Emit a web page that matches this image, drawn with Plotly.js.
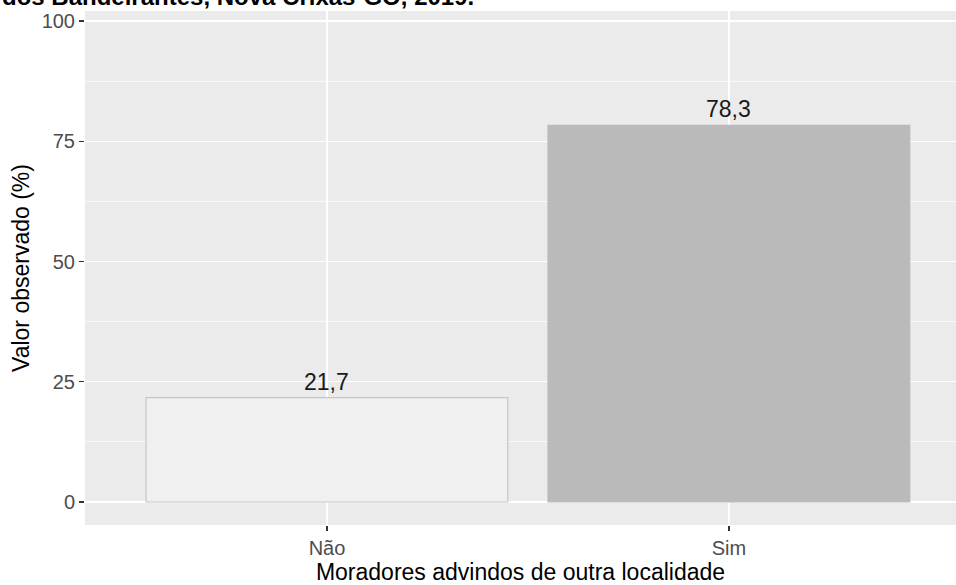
<!DOCTYPE html>
<html>
<head>
<meta charset="utf-8">
<script src="https://cdn.plot.ly/plotly-3.0.1.min.js"></script>
<style>html,body{margin:0;padding:0;background:#fff;}#chart{width:956px;height:585px;}</style>
</head>
<body>
<div id="chart"></div>
<script>
// Data
var categories = ["Não", "Sim"];
var values = [21.7, 78.3];
var labels = ["21,7", "78,3"];
var barFills = ["#F0F0F0", "#BABABA"];
var barLines = ["#C6C6C6", "#BABABA"];
var yTickVals = [0, 25, 50, 75, 100];
var titleText = "dos Bandeirantes, Nova Crixás-GO, 2019.";

var W = 956, H = 585;
var mL = 85, mR = 0, mT = 11, mB = 60;
var plotW = W - mL - mR, plotH = H - mT - mB;

var trace = {
  type: "bar",
  x: categories,
  y: values,
  width: 0.9,
  marker: {color: barFills, line: {color: barLines, width: 1.2}},
  hoverinfo: "none"
};

var annotations = categories.map(function (c, i) {
  return {
    x: c, y: values[i], xref: "x", yref: "y",
    text: labels[i], showarrow: false,
    yanchor: "middle", yshift: 16,
    font: {family: "Liberation Sans, Arial, sans-serif", size: 23, color: "#1A1A1A"}
  };
});

annotations.push({
  xref: "paper", yref: "paper",
  x: -mL / plotW, y: 1 + (mT - 12) / plotH,
  xanchor: "left", yanchor: "bottom",
  text: "<b>" + titleText + "</b>", showarrow: false,
  font: {family: "Liberation Sans, Arial, sans-serif", size: 24, color: "#000000"}
});

var layout = {
  width: W, height: H,
  margin: {l: mL, r: mR, t: mT, b: mB, pad: 0},
  paper_bgcolor: "#FFFFFF",
  plot_bgcolor: "#EBEBEB",
  showlegend: false,
  bargap: 0,
  xaxis: {
    type: "category",
    range: [-0.602, 1.565],
    showgrid: true, gridcolor: "#FFFFFF", gridwidth: 1.4,
    zeroline: false, showline: false,
    ticks: "outside", ticklen: 5, tickwidth: 1.2, tickcolor: "#333333",
    tickfont: {family: "Liberation Sans, Arial, sans-serif", size: 20, color: "#4D4D4D"},
    title: {text: "Moradores advindos de outra localidade", standoff: 6,
            font: {family: "Liberation Sans, Arial, sans-serif", size: 23, color: "#000000"}},
    automargin: false
  },
  yaxis: {
    range: [-4.78, 102.08],
    tickvals: yTickVals,
    ticktext: yTickVals.map(String),
    showgrid: true, gridcolor: "#FFFFFF", gridwidth: 1.4,
    minor: {tickvals: [12.5, 37.5, 62.5, 87.5], showgrid: true, gridcolor: "#FFFFFF", gridwidth: 0.7, ticks: ""},
    zeroline: false, showline: false,
    ticks: "outside", ticklen: 5, tickwidth: 1.2, tickcolor: "#333333",
    tickfont: {family: "Liberation Sans, Arial, sans-serif", size: 20, color: "#4D4D4D"},
    title: {text: "Valor observado (%)", standoff: 5,
            font: {family: "Liberation Sans, Arial, sans-serif", size: 23, color: "#000000"}},
    automargin: false
  },
  annotations: annotations
};

Plotly.newPlot("chart", [trace], layout, {displayModeBar: false, staticPlot: true});
</script>
</body>
</html>
